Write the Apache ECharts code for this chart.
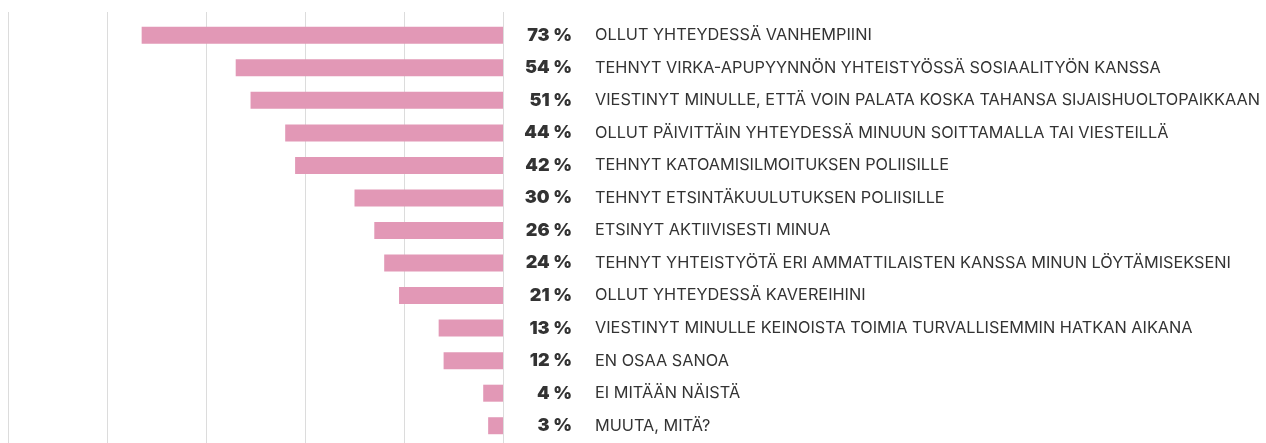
<!DOCTYPE html>
<html>
<head>
<meta charset="utf-8">
<script src="https://cdn.jsdelivr.net/npm/echarts@6/dist/echarts.min.js"></script>
<style>
  html, body { margin: 0; padding: 0; background: #fff; }
  #chart { width: 1266px; height: 443px; }
</style>
</head>
<body>
<div id="chart"></div>
<script>
// Survey answers, top to bottom
const categories = [
  'OLLUT YHTEYDESSÄ VANHEMPIINI',
  'TEHNYT VIRKA-APUPYYNNÖN YHTEISTYÖSSÄ SOSIAALITYÖN KANSSA',
  'VIESTINYT MINULLE, ETTÄ VOIN PALATA KOSKA TAHANSA SIJAISHUOLTOPAIKKAAN',
  'OLLUT PÄIVITTÄIN YHTEYDESSÄ MINUUN SOITTAMALLA TAI VIESTEILLÄ',
  'TEHNYT KATOAMISILMOITUKSEN POLIISILLE',
  'TEHNYT ETSINTÄKUULUTUKSEN POLIISILLE',
  'ETSINYT AKTIIVISESTI MINUA',
  'TEHNYT YHTEISTYÖTÄ ERI AMMATTILAISTEN KANSSA MINUN LÖYTÄMISEKSENI',
  'OLLUT YHTEYDESSÄ KAVEREIHINI',
  'VIESTINYT MINULLE KEINOISTA TOIMIA TURVALLISEMMIN HATKAN AIKANA',
  'EN OSAA SANOA',
  'EI MITÄÄN NÄISTÄ',
  'MUUTA, MITÄ?'
];
// Share of respondents, percent
const values = [73, 54, 51, 44, 42, 30, 26, 24, 21, 13, 12, 4, 3];

const chart = echarts.init(document.getElementById('chart'), null, { renderer: 'canvas' });

const FONT = 'Inter, "Noto Sans", sans-serif';

const hiddenAxis = {
  axisLine: { show: false }, axisTick: { show: false }, splitLine: { show: false }
};

chart.setOption({
  animation: false,
  grid: [
    { left: 8, width: 495, top: 19, height: 423, containLabel: false },
    { left: 8, width: 495, top: 12, bottom: 0, containLabel: false }
  ],
  xAxis: [
    {
      gridIndex: 0, type: 'value', min: 0, max: 100, interval: 20, inverse: true,
      axisLine: { show: false }, axisTick: { show: false },
      axisLabel: { show: false }, splitLine: { show: false }
    },
    {
      gridIndex: 1, type: 'value', min: 0, max: 100, interval: 20, inverse: true,
      axisLine: { show: false }, axisTick: { show: false },
      axisLabel: { show: false },
      splitLine: { show: true, lineStyle: { color: '#dcdcdc', width: 1 } }
    }
  ],
  yAxis: [
    // percentage labels, right-aligned next to the bars
    Object.assign({
      gridIndex: 0, type: 'category', data: categories, inverse: true, position: 'right',
      axisLabel: {
        margin: 69,
        align: 'right',
        padding: [3, 0, 0, 0],
        formatter: (val, idx) => values[idx] + ' %',
        fontFamily: FONT, fontWeight: 900, fontSize: 18, color: '#333333'
      }
    }, hiddenAxis),
    // answer texts
    Object.assign({
      gridIndex: 0, type: 'category', data: categories, inverse: true, position: 'right',
      axisLabel: {
        margin: 92,
        align: 'left',
        padding: [3, 0, 0, 0],
        fontFamily: FONT, fontWeight: 400, fontSize: 16.3, color: '#333333'
      }
    }, hiddenAxis),
    {
      gridIndex: 1, type: 'category', data: categories, show: false
    }
  ],
  series: [
    {
      type: 'bar',
      xAxisIndex: 0, yAxisIndex: 0,
      data: values,
      barWidth: 17,
      itemStyle: { color: '#e298b6' },
      silent: true
    }
  ]
});
</script>
</body>
</html>
